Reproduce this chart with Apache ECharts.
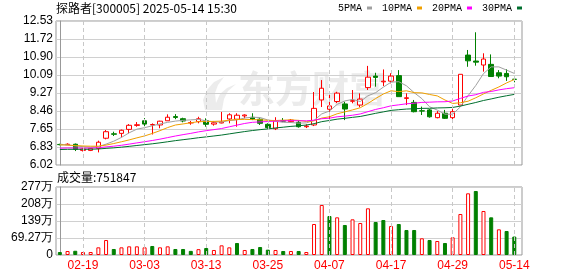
<!DOCTYPE html>
<html><head><meta charset="utf-8">
<script src="https://cdn.jsdelivr.net/npm/echarts@6/dist/echarts.min.js"></script>
<style>html,body{margin:0;padding:0;background:#fff}#c{width:578px;height:276px}</style>
</head><body><div id="c"></div>
<script>
const headTitle = '探路者[300005] 2025-05-14 15:30';
const volTitle = '成交量:751847';
const dates = ['02-14','02-17','02-18','02-19','02-20','02-21','02-24','02-25','02-26','02-27','02-28',
  '03-03','03-04','03-05','03-06','03-07','03-10','03-11','03-12','03-13','03-14','03-17','03-18','03-19','03-20','03-21','03-24','03-25','03-26','03-27','03-28','03-31',
  '04-01','04-02','04-03','04-07','04-08','04-09','04-10','04-11','04-14','04-15','04-16','04-17','04-18','04-21','04-22','04-23','04-24','04-25','04-28','04-29','04-30',
  '05-06','05-07','05-08','05-09','05-12','05-13','05-14'];
const open  = [6.95,6.94,6.96,6.68,6.68,6.775,7.23,7.43,7.45,7.63,7.81,8.02,7.83,7.83,8.02,8.21,8.113,7.92,7.98,8.02,7.87,7.92,8.10,8.09,8.24,8.176,8.09,7.86,7.66,8.03,7.98,7.95,7.75,7.83,8.96,8.54,8.89,8.78,8.90,8.73,9.52,10.04,9.78,9.81,10.06,9.03,8.85,8.47,8.51,8.16,8.36,8.16,8.73,10.99,10.72,10.54,10.57,10.19,10.16,9.90];
const close = [6.94,6.96,6.73,6.745,6.77,7.05,7.525,7.41,7.59,7.815,7.84,7.87,7.85,8.00,8.18,8.17,8.01,7.94,8.11,7.86,7.93,7.96,8.29,8.27,8.28,8.10,7.905,7.71,8.02,8.00,8.05,7.75,7.78,8.58,9.49,8.69,9.27,8.55,8.93,9.00,9.99,9.98,9.81,10.04,9.11,9.06,8.43,8.46,8.20,8.36,8.13,8.43,10.12,10.73,10.67,10.81,10.02,10.04,10.01,9.89];
const low   = [6.91,6.92,6.65,6.63,6.65,6.59,7.18,7.33,7.27,7.45,7.75,7.72,7.40,7.68,8.02,8.09,7.95,7.84,7.905,7.75,7.80,7.905,7.905,7.75,8.13,8.05,7.83,7.66,7.60,7.96,7.94,7.71,7.69,7.78,8.64,8.05,8.82,8.05,8.81,8.63,9.41,9.56,9.59,9.71,9.11,8.73,8.40,8.28,8.16,8.13,8.10,8.05,8.73,10.46,10.51,10.24,10.02,9.94,9.82,9.76];
const high  = [6.98,7.00,6.99,6.79,6.79,7.12,7.60,7.525,7.62,7.87,7.96,8.14,7.90,8.02,8.31,8.32,8.158,8.01,8.20,8.13,8.01,8.42,8.36,8.36,8.31,8.36,8.13,7.905,8.18,8.14,8.10,8.04,7.86,9.32,9.86,9.23,9.33,8.88,9.41,9.26,10.50,10.19,10.34,10.17,10.31,9.26,8.96,8.66,8.55,8.46,8.51,8.70,10.12,11.22,12.02,11.07,11.02,10.31,10.35,10.01];
const prevClose = 6.98;
const volume = [12.2,16.3,17.3,12.2,12.2,31.2,61.0,24.5,31.2,35.3,35.3,31.2,36.7,31.2,35.3,24.5,24.5,16.8,23.8,28.5,20.4,39.4,31.2,48.9,20.4,24.5,32.6,21.7,20.4,16.3,16.3,16.3,12.2,126.3,203.8,158.9,153.5,122.3,145.3,130.4,190.2,134.5,142.6,118.2,126.3,101.9,101.9,68.0,61.1,57.0,48.9,72.0,167.0,251.3,260.8,179.3,153.5,104.6,97.8,75.18];
const ma5  = [6.95,6.93,6.88,6.85,6.83,6.852,6.963,7.097,7.267,7.476,7.641,7.707,7.793,7.875,7.948,8.004,8.04,8.06,8.082,8.018,7.97,7.96,8.03,8.06,8.146,8.18,8.167,8.053,7.997,7.95,7.941,7.91,7.924,8.036,8.33,8.458,8.762,8.916,8.986,8.888,9.148,9.29,9.542,9.764,9.786,9.60,9.29,9.02,8.652,8.502,8.316,8.316,8.648,9.154,9.616,10.152,10.456,10.454,10.31,10.16];
const ma10 = [6.93,6.92,6.90,6.88,6.87,6.87,6.92,6.99,7.07,7.154,7.247,7.334,7.446,7.572,7.713,7.827,7.876,7.929,7.98,7.985,7.991,8.004,8.047,8.075,8.082,8.073,8.063,8.04,8.03,8.047,8.059,8.038,7.987,8.017,8.141,8.20,8.336,8.42,8.511,8.609,8.803,9.026,9.229,9.375,9.337,9.374,9.29,9.281,9.208,9.144,8.958,8.803,8.834,8.903,9.059,9.234,9.395,9.55,9.731,9.884];
const ma20 = [6.78,6.79,6.788,6.787,6.787,6.801,6.839,6.871,6.912,6.964,7.019,7.072,7.127,7.188,7.259,7.33,7.392,7.45,7.517,7.572,7.619,7.669,7.747,7.824,7.898,7.95,7.97,7.985,8.005,8.016,8.025,8.021,8.017,8.046,8.112,8.137,8.20,8.23,8.27,8.328,8.431,8.532,8.608,8.696,8.739,8.787,8.813,8.85,8.86,8.876,8.88,8.915,9.03,9.139,9.198,9.304,9.343,9.416,9.47,9.514];
const ma30 = [6.72,6.729,6.73,6.731,6.733,6.745,6.772,6.796,6.826,6.863,6.902,6.94,6.978,7.022,7.071,7.121,7.164,7.206,7.253,7.291,7.332,7.374,7.427,7.48,7.531,7.578,7.618,7.652,7.696,7.729,7.766,7.792,7.827,7.888,7.979,8.033,8.092,8.13,8.174,8.214,8.284,8.356,8.421,8.489,8.52,8.549,8.563,8.58,8.583,8.60,8.607,8.622,8.683,8.765,8.846,8.936,9.007,9.084,9.15,9.212];
const maNames = ['5PMA','10PMA','20PMA','30PMA'];
const priceTicks = ['6.02','6.83','7.65','8.46','9.27','10.09','10.90','11.72','12.53'];
const volTicks = ['0','69.27万','139万','208万','277万'];
const labelDays = ['02-19','03-03','03-13','03-25','04-07','04-17','04-29','05-14'];
const watermark = '东方财富';

const UP = '#ff0000', DOWN = '#008000';
const maColors = ['#a0a0a0','#f0a000','#ff00ff','#006f2e'];
const pMin = parseFloat(priceTicks[0]), pMax = parseFloat(priceTicks[priceTicks.length-1]);
const pInt = (pMax - pMin) / (priceTicks.length - 1);
const vInt = parseFloat(volTicks[1]);
const vMax = vInt * (volTicks.length - 1);
const labelIdx = labelDays.map(d => dates.indexOf(d));
const xMin = -0.5, xMax = dates.length;

const candleData = dates.map((d,i) => [i, open[i], close[i], low[i], high[i]]);
const volData = dates.map((d,i) => {
  const up = close[i] >= (i ? close[i-1] : prevClose);
  return {value: [i, volume[i]], itemStyle: up ? {color:'#fff', borderColor: UP, borderWidth:1} : {color: DOWN, borderColor: DOWN, borderWidth:1}};
});
const mas = [ma5, ma10, ma20, ma30];
const vLines = labelIdx.map(i => ({xAxis: i}));
const dashStyle = {color:'#c8c8c8', type:[4,3], width:1};

const chart = echarts.init(document.getElementById('c'), null, {renderer:'canvas'});
chart.setOption({
  animation: false,
  backgroundColor: '#fff',
  title: [
    {text: headTitle, left: 56, top: 2, padding: 0, textStyle:{fontSize:12, fontWeight:'normal', color:'#000', fontFamily:'"Noto Sans CJK SC"'}},
    {text: volTitle, left: 57, top: 171, padding: 0, textStyle:{fontSize:12, fontWeight:'normal', color:'#000', fontFamily:'"Noto Sans CJK SC"'}}
  ],
  legend: {left: 338, top: 3, padding: 0, itemWidth: 5, itemHeight: 3, itemGap: 10, align: 'right', icon: 'rect',
    data: maNames, textStyle:{fontFamily:'"Liberation Mono"', fontSize:10, color:'#000'}},
  graphic: [
    {type:'polygon', z: -10, silent: true, x: 201, y: 76,
      shape:{points:[[4,34],[2,24],[6,14],[13,6],[23,1],[17,9],[14,17],[15,27],[19,18],[26,12],[35,8],[27,15],[23,23],[21,34]]},
      style:{fill:'#ececec'}},
    {type:'text', left: 238, top: 70, z: -10, silent: true,
      style:{text: watermark, font:'bold 37px "Noto Sans CJK SC"', fill:'#ebebeb'}}
  ],
  grid: [
    {left:56, top:21, width:466, height:144, show:true, borderColor:'#999', borderWidth:1},
    {left:56, top:187, width:466, height:68, show:true, borderColor:'#999', borderWidth:1}
  ],
  xAxis: [
    {type:'value', gridIndex:0, min:xMin, max:xMax, axisLine:{show:false}, axisTick:{show:false}, axisLabel:{show:false}, splitLine:{show:false}},
    {type:'value', gridIndex:1, min:xMin, max:xMax, axisLine:{show:false}, axisTick:{show:false}, splitLine:{show:false},
      axisLabel:{show:true, customValues: labelIdx, formatter: v => dates[Math.round(v)], color: UP, fontSize:12, fontFamily:'"Liberation Sans"', margin:5}}
  ],
  yAxis: [
    {type:'value', gridIndex:0, min:pMin, max:pMax, interval:pInt, axisLine:{show:true, lineStyle:{color:'#999'}}, axisTick:{show:false},
      splitLine:{show:true, lineStyle:{color:'#d0d0d0'}},
      axisLabel:{formatter: v => priceTicks[Math.round((v - pMin)/pInt)], color:'#000', fontSize:12, fontFamily:'"Liberation Sans"', margin:3}},
    {type:'value', gridIndex:1, min:0, max:vMax, interval:vInt, axisLine:{show:true, lineStyle:{color:'#999'}}, axisTick:{show:false},
      splitLine:{show:true, lineStyle:{color:'#d0d0d0'}},
      axisLabel:{formatter: v => volTicks[Math.round(v / vInt)], color:'#000', fontSize:12, fontFamily:'"Liberation Sans"', margin:3}}
  ],
  series: [
    {type:'line', xAxisIndex:0, yAxisIndex:0, data:[], z:1, silent:true,
      markLine:{silent:true, symbol:'none', label:{show:false}, lineStyle:dashStyle, data:vLines}},
    {type:'line', xAxisIndex:1, yAxisIndex:1, data:[], z:1, silent:true,
      markLine:{silent:true, symbol:'none', label:{show:false}, lineStyle:dashStyle, data:vLines}},
    {type:'candlestick', name:'K', xAxisIndex:0, yAxisIndex:0, barWidth:5, z:3,
      itemStyle:{color:'#fff', color0:DOWN, borderColor:UP, borderColor0:DOWN, borderWidth:1},
      data: candleData},
    ...mas.map((m, k) => ({type:'line', name: maNames[k], xAxisIndex:0, yAxisIndex:0, showSymbol:false, symbol:'none', z:4,
      lineStyle:{color: maColors[k], width:1}, itemStyle:{color: maColors[k]},
      data: m.map((v,i) => [i, v])})),
    {type:'bar', xAxisIndex:1, yAxisIndex:1, barWidth:4, z:3, data: volData}
  ]
});
</script></body></html>
